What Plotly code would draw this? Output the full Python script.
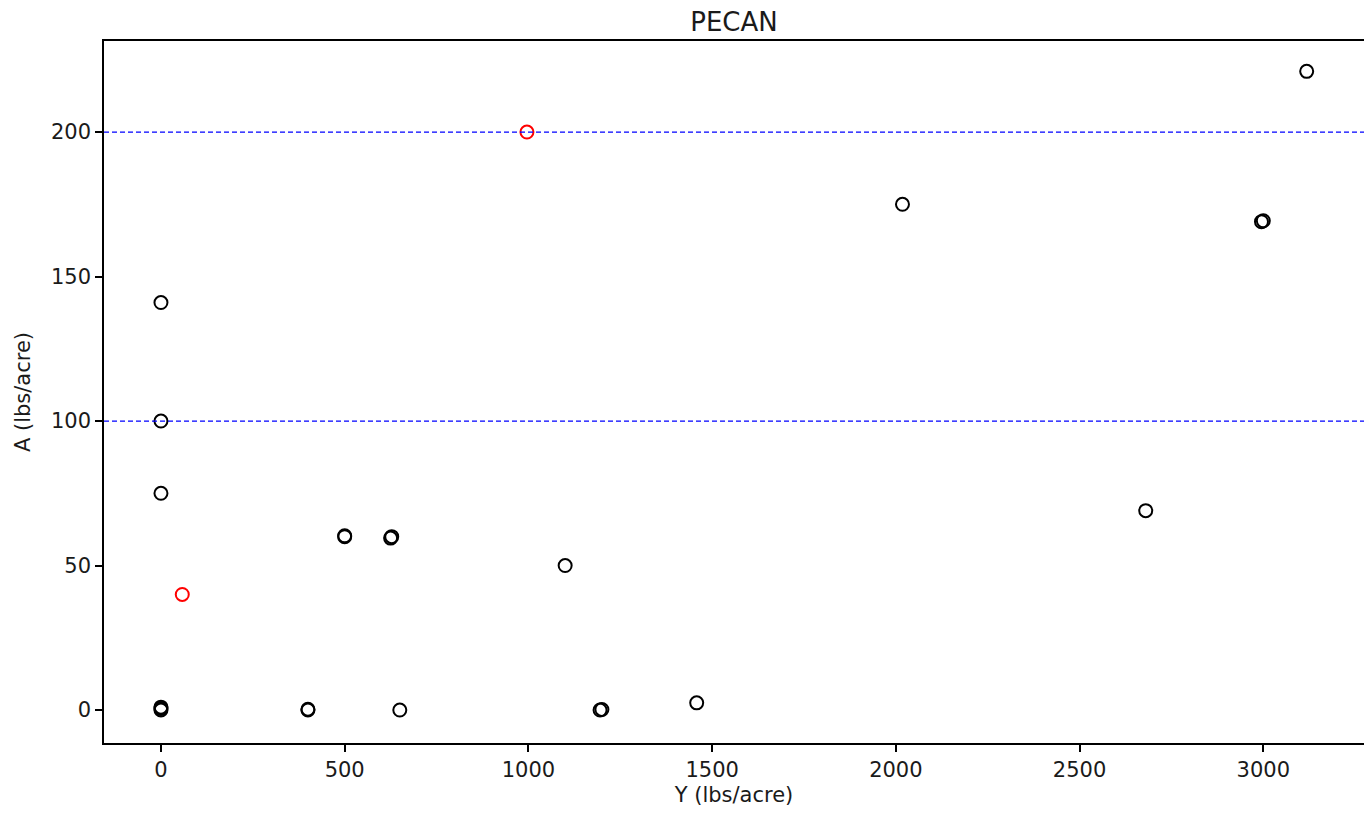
import plotly.graph_objects as go

# Data
y_yield = [0, 0, 0, 0, 0, 0, 400, 400, 500, 500, 625, 628, 650, 1100,
           1195, 1200, 1458, 2018, 2680, 2995, 3000, 3118]
a_applied = [141, 100, 75, 0, 0.5, 1, 0, 0.3, 60, 60.3, 59.5, 60, 0, 50,
             0, 0.2, 2.5, 175, 69, 169, 169.3, 221]
red_yield = [58, 996]
red_applied = [40, 200]
ref_lines = [100, 200]

fig = go.Figure()

fig.add_trace(go.Scatter(
    x=y_yield, y=a_applied, mode='markers',
    marker=dict(symbol='circle-open', size=13, color='black', line=dict(width=2)),
    showlegend=False
))
fig.add_trace(go.Scatter(
    x=red_yield, y=red_applied, mode='markers',
    marker=dict(symbol='circle-open', size=13, color='red', line=dict(width=2)),
    showlegend=False
))

for yv in ref_lines:
    fig.add_hline(y=yv, line_dash='5px,3px', line_color='blue', line_width=1.2)

axis_common = dict(
    showgrid=False, zeroline=False, showline=True, linecolor='black', linewidth=1.5,
    mirror=True, ticks='outside', ticklen=7, tickwidth=1.5, tickcolor='black',
    tickfont=dict(size=21, color='#1a1a1a'),
)

# page has an 8px body margin, so the figure is sized to fit inside the window
fig.update_layout(
    title=dict(text='PECAN', x=0.5, xref='paper', xanchor='center',
               y=0.972, yanchor='bottom', font=dict(size=26, color='#1a1a1a')),
    font=dict(family='DejaVu Sans', color='#1a1a1a'),
    plot_bgcolor='white', paper_bgcolor='white',
    width=1364, height=806,
    margin=dict(l=96, r=6, t=33, b=71),
    xaxis=dict(range=[-155, 3274], tickvals=[0, 500, 1000, 1500, 2000, 2500, 3000],
               title=dict(text='Y (lbs/acre)', font=dict(size=21), standoff=6),
               **axis_common),
    yaxis=dict(range=[-11.4, 231.5], tickvals=[0, 50, 100, 150, 200],
               title=dict(text='A (lbs/acre)', font=dict(size=21), standoff=15),
               **axis_common),
)

fig.write_html("out.html")
